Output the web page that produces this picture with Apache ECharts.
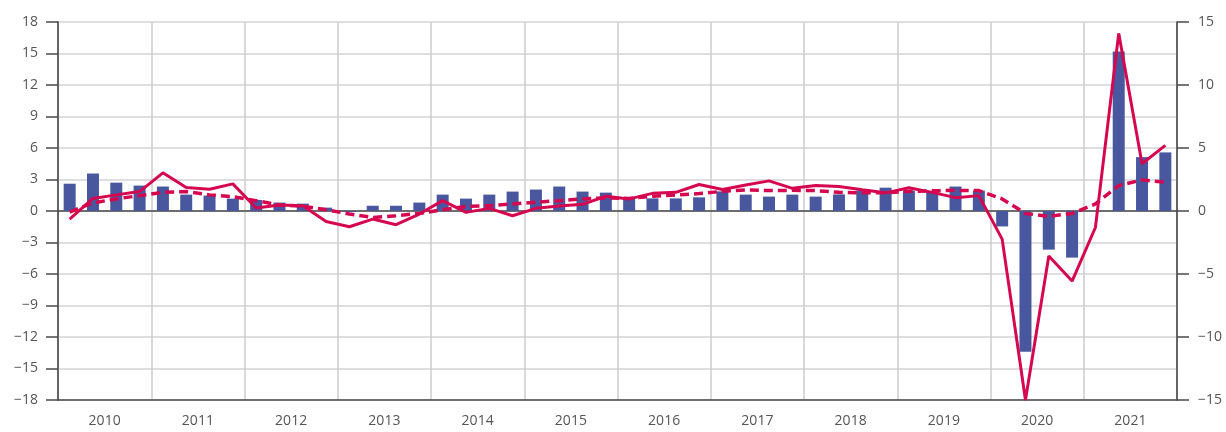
<!DOCTYPE html>
<html>
<head>
<meta charset="utf-8">
<style>
  html, body { margin: 0; padding: 0; background: #fff; }
  #chart { width: 1226px; height: 432px; }
</style>
<script src="https://cdn.jsdelivr.net/npm/echarts@6/dist/echarts.min.js"></script>
</head>
<body>
<div id="chart"></div>
<script>
var years = ['2010', '2011', '2012', '2013', '2014', '2015', '2016', '2017', '2018', '2019', '2020', '2021'];
var quarters = [];
years.forEach(function (y) { for (var q = 1; q <= 4; q++) quarters.push(y + 'Q' + q); });

// bars, left axis
var barValues = [
  2.6, 3.57, 2.7, 2.42, 2.33, 1.56, 1.47, 1.18, 1.05, 0.8, 0.7, 0.32,
  -0.1, 0.5, 0.5, 0.8, 1.56, 1.18, 1.56, 1.85, 2.04, 2.33, 1.85, 1.75,
  1.3, 1.2, 1.2, 1.3, 1.87, 1.56, 1.37, 1.56, 1.37, 1.58, 1.95, 2.22,
  1.94, 1.8, 2.33, 1.94, -1.47, -13.4, -3.68, -4.44, 0, 15.2, 5.13, 5.58
];
// solid line, right axis
var solidValues = [
  -0.64, 1.0, 1.28, 1.54, 3.03, 1.86, 1.73, 2.15, 0.24, 0.48, 0.42, -0.83,
  -1.25, -0.64, -1.09, -0.24, 0.82, -0.11, 0.21, -0.38, 0.21, 0.4, 0.53, 1.17,
  0.96, 1.4, 1.48, 2.1, 1.7, 2.07, 2.39, 1.8, 2.02, 1.94, 1.68, 1.44,
  1.84, 1.48, 1.06, 1.22, -2.23, -15.0, -3.57, -5.56, -1.31, 14.1, 3.75, 5.21
];
// dashed line, right axis
var dashedValues = [
  -0.08, 0.64, 0.96, 1.22, 1.48, 1.54, 1.28, 1.14, 0.82, 0.48, 0.37, 0.1,
  -0.24, -0.51, -0.38, -0.19, 0.1, 0.37, 0.42, 0.56, 0.69, 0.82, 0.96, 1.04,
  1.0, 1.17, 1.28, 1.38, 1.56, 1.68, 1.62, 1.64, 1.62, 1.48, 1.44, 1.44,
  1.56, 1.6, 1.64, 1.62, 0.96, -0.19, -0.43, -0.19, 0.56, 2.02, 2.47, 2.28
];

var myChart = echarts.init(document.getElementById('chart'));
var red = '#d5084f';
var axisDark = '#4a4a4a';
var fmt = function (v) { return String(v).replace('-', '\u2212'); };
var labelStyle = { color: '#555', fontSize: 14, fontFamily: 'Open Sans' };

var option = {
  animation: false,
  grid: { left: 58, right: 49, top: 22, bottom: 32, show: true, borderColor: axisDark, borderWidth: 1.5 },
  xAxis: [{
    type: 'category',
    data: quarters,
    position: 'bottom',
    axisLine: { onZero: true, lineStyle: { color: axisDark, width: 1.5 } },
    axisTick: { show: false },
    axisLabel: { show: false },
    splitLine: { show: false }
  }, {
    type: 'category',
    data: years,
    position: 'bottom',
    axisLine: { onZero: false, lineStyle: { color: axisDark, width: 1.5 } },
    axisTick: { show: false },
    axisLabel: Object.assign({ margin: 14 }, labelStyle),
    splitLine: { show: true, interval: 0, lineStyle: { color: '#cccccc', width: 1.5 } }
  }],
  yAxis: [{
    type: 'value',
    min: -18, max: 18, interval: 3,
    axisLine: { show: true, lineStyle: { color: axisDark, width: 1.5 } },
    axisTick: { show: true, length: 12, lineStyle: { color: axisDark, width: 1.5 } },
    axisLabel: Object.assign({ margin: 20, formatter: fmt }, labelStyle),
    splitLine: { show: true, lineStyle: { color: '#dedede', width: 2 } }
  }, {
    type: 'value',
    min: -15, max: 15, interval: 5,
    position: 'right',
    axisLine: { show: true, lineStyle: { color: axisDark, width: 1.5 } },
    axisTick: { show: true, length: 12, lineStyle: { color: axisDark, width: 1.5 } },
    axisLabel: Object.assign({ margin: 21, formatter: fmt }, labelStyle),
    splitLine: { show: false }
  }],
  series: [{
    type: 'bar',
    xAxisIndex: 0, yAxisIndex: 0,
    data: barValues,
    barWidth: 12,
    itemStyle: { color: '#49579e' }
  }, {
    type: 'line',
    xAxisIndex: 0, yAxisIndex: 1,
    data: dashedValues,
    symbol: 'none',
    lineStyle: { color: red, width: 3.5, type: [9, 5] },
    z: 3
  }, {
    type: 'line',
    xAxisIndex: 0, yAxisIndex: 1,
    data: solidValues,
    symbol: 'none',
    lineStyle: { color: red, width: 3 },
    z: 4
  }]
};

myChart.setOption(option);
window.addEventListener('resize', function () { myChart.resize(); });
</script>
</body>
</html>
